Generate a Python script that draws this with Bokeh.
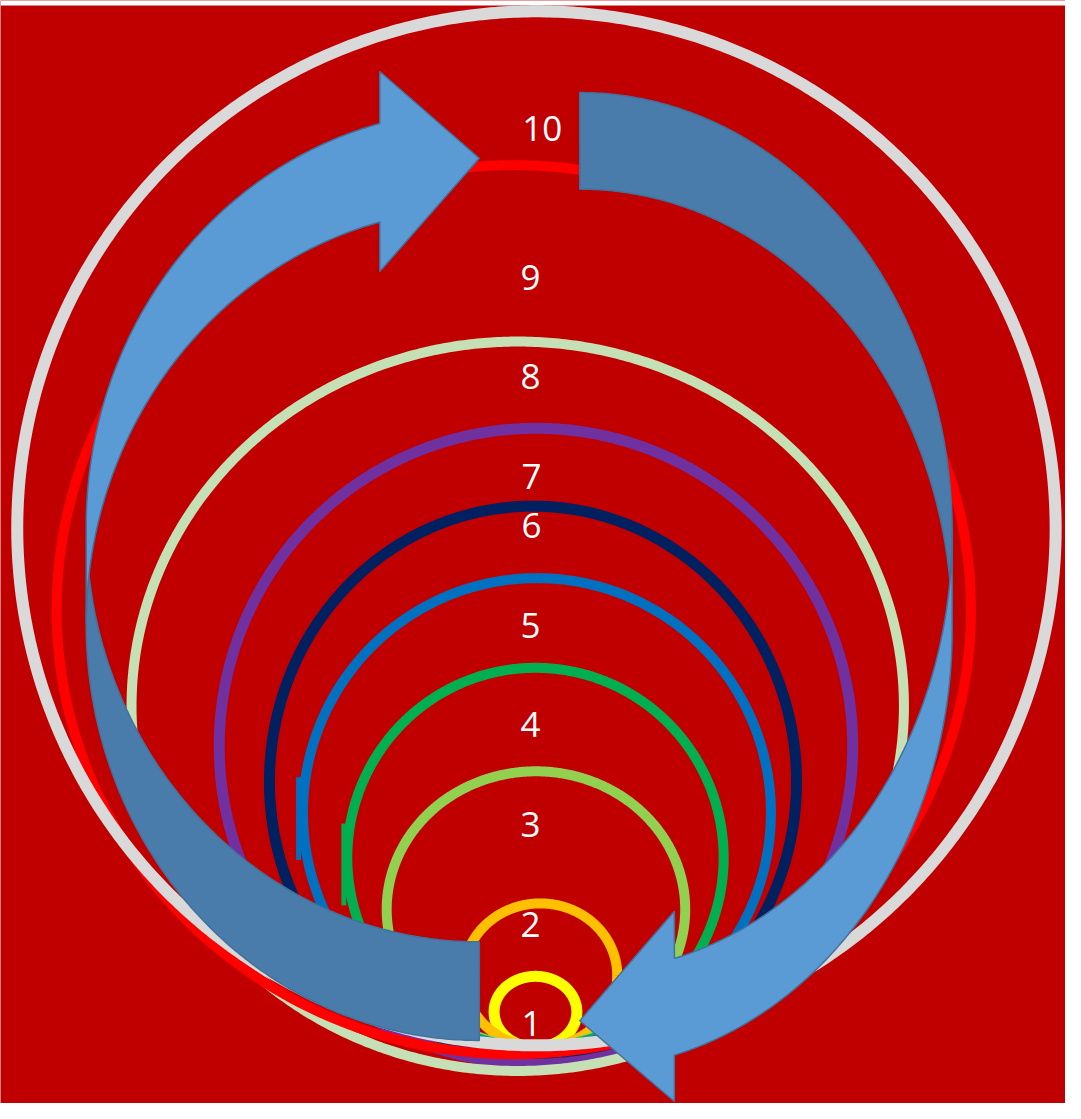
import numpy as np
from bokeh.plotting import figure
from bokeh.models import Range1d
from bokeh.core.properties import value
from bokeh.embed import file_html
from bokeh.resources import INLINE

# ---- data (reference pixel units) ----
ring_labels = ["1", "2", "3", "4", "5", "6", "7", "8", "9", "10"]
ring_colors = ["#FFFF00", "#FFC000", "#92D050", "#00B050", "#0070C0",
               "#002060", "#7030A0", "#C5E0B4", "#FF0000", "#D9D9D9"]
ring_cx = [543, 548, 543.5, 543, 544.5, 540.5, 543.5, 525, 521, 544]
ring_cy = [1026, 989, 922, 869.5, 824, 792.5, 756.5, 716, 618, 535.5]
ring_rx = [42, 78, 151.5, 191, 237.5, 267.5, 321.5, 392, 464, 527]
ring_ry = [36, 73, 140, 192.5, 238, 279.5, 322.5, 370, 451, 524.5]
ring_lw = [11, 10, 10, 10, 10, 11, 11, 10, 10, 12]

label_x = [539, 538, 538, 538, 538, 539, 539, 538, 538, 550]
label_y = [1038, 937, 836, 735, 634, 533, 483, 381, 281, 130]

# small thick pieces on ring 5 and ring 4
piece_left = [300, 346]
piece_right = [305, 351]
piece_top = [788, 835]
piece_bottom = [872, 918]
piece_colors = ["#0070C0", "#00B050"]

BG = "#C00000"
LIGHT = "#5B9BD5"
DARK = "#497CAA"
EDGE = "#41719C"

REF_W, REF_H = 1081, 1119
W, H = 1065, 1103
p = figure(width=W, height=H, x_range=Range1d(0, REF_W), y_range=Range1d(REF_H, 0),
           output_backend="svg", toolbar_location=None, min_border=0,
           background_fill_color=BG, border_fill_color=BG)
p.axis.visible = False
p.grid.visible = False
p.outline_line_color = None

# white strip at the very top
p.quad(left=[0], right=[REF_W], top=[0], bottom=[5], fill_color="white", line_color=None)


def arc(cx, cy, rx, ry, t0, t1, n=200):
    t = np.linspace(t0, t1, n)
    return cx + rx * np.cos(t), cy + ry * np.sin(t)


# ---- rings ----
tt = np.linspace(0, 2 * np.pi, 721)
for i in range(len(ring_labels)):
    xs = ring_cx[i] + ring_rx[i] * np.cos(tt)
    ys = ring_cy[i] + ring_ry[i] * np.sin(tt)
    p.line(xs, ys, line_color=ring_colors[i], line_width=ring_lw[i], line_join="round")
    if i == 3:
        p.quad(left=[piece_left[1]], right=[piece_right[1]], top=[piece_top[1]],
               bottom=[piece_bottom[1]], fill_color=piece_colors[1], line_color=None)
    if i == 4:
        p.quad(left=[piece_left[0]], right=[piece_right[0]], top=[piece_top[0]],
               bottom=[piece_bottom[0]], fill_color=piece_colors[0], line_color=None)

# ---- left curved arrow (head at top, pointing right) ----
L_cx, L_rx, L_ry = 486, 399, 422
L_cU, L_cL = 633, 533          # two ellipse centres
L_x1 = 385
L_head = (72, 275)
L_tip = (486, 160)

tx1 = 2 * np.pi - np.arccos((L_x1 - L_cx) / L_rx)
s = (583 - L_cL) / L_ry
tLi = np.pi - np.arcsin(s)
tUi = np.pi + np.arcsin(s)
bx1, by1 = arc(L_cx, L_cL, L_rx, L_ry, np.pi / 2, tLi)
bx2, by2 = arc(L_cx, L_cU, L_rx, L_ry, tUi, np.pi / 2)
p.patch(np.concatenate([bx1, bx2]), np.concatenate([by1, by2]),
        fill_color=DARK, line_color=EDGE, line_width=1.5)
fx1, fy1 = arc(L_cx, L_cU, L_rx, L_ry, np.pi, tx1)
fx2, fy2 = arc(L_cx, L_cL, L_rx, L_ry, tx1, np.pi)
hx = [L_x1, L_tip[0], L_x1]
hy = [L_head[1], L_tip[1], L_head[0]]
p.patch(np.concatenate([fx1, hx, fx2]), np.concatenate([fy1, hy, fy2]),
        fill_color=LIGHT, line_color=EDGE, line_width=1.5)

# ---- right curved arrow (head at bottom, pointing left) ----
R_cx, R_rx, R_ry = 588, 378, 446.6
R_cA, R_cB = 540, 638
R_x1 = 684
R_head = (924, 1117)
R_tip = (588, 1035)

s2 = (589 - R_cA) / R_ry
tBi = 2 * np.pi - np.arcsin(s2)
tAi = np.arcsin(s2)
rx1, ry1 = arc(R_cx, R_cB, R_rx, R_ry, 1.5 * np.pi, tBi)
rx2, ry2 = arc(R_cx, R_cA, R_rx, R_ry, tAi, -np.pi / 2)
p.patch(np.concatenate([rx1, rx2]), np.concatenate([ry1, ry2]),
        fill_color=DARK, line_color=EDGE, line_width=1.5)
th1 = np.arccos((R_x1 - R_cx) / R_rx)
gx1, gy1 = arc(R_cx, R_cA, R_rx, R_ry, 0, th1)
gx2, gy2 = arc(R_cx, R_cB, R_rx, R_ry, th1, 0)
hx2 = [R_x1, R_tip[0], R_x1]
hy2 = [R_head[0], R_tip[1], R_head[1]]
p.patch(np.concatenate([gx1, hx2, gx2]), np.concatenate([gy1, hy2, gy2]),
        fill_color=LIGHT, line_color=EDGE, line_width=1.5)

# ---- labels ----
p.text(x=label_x, y=label_y, text=ring_labels, text_color="white",
       text_font=value("Open Sans"), text_font_size="35px",
       text_align="center", text_baseline="middle")

open("out.html", "w").write(file_html(p, INLINE))
